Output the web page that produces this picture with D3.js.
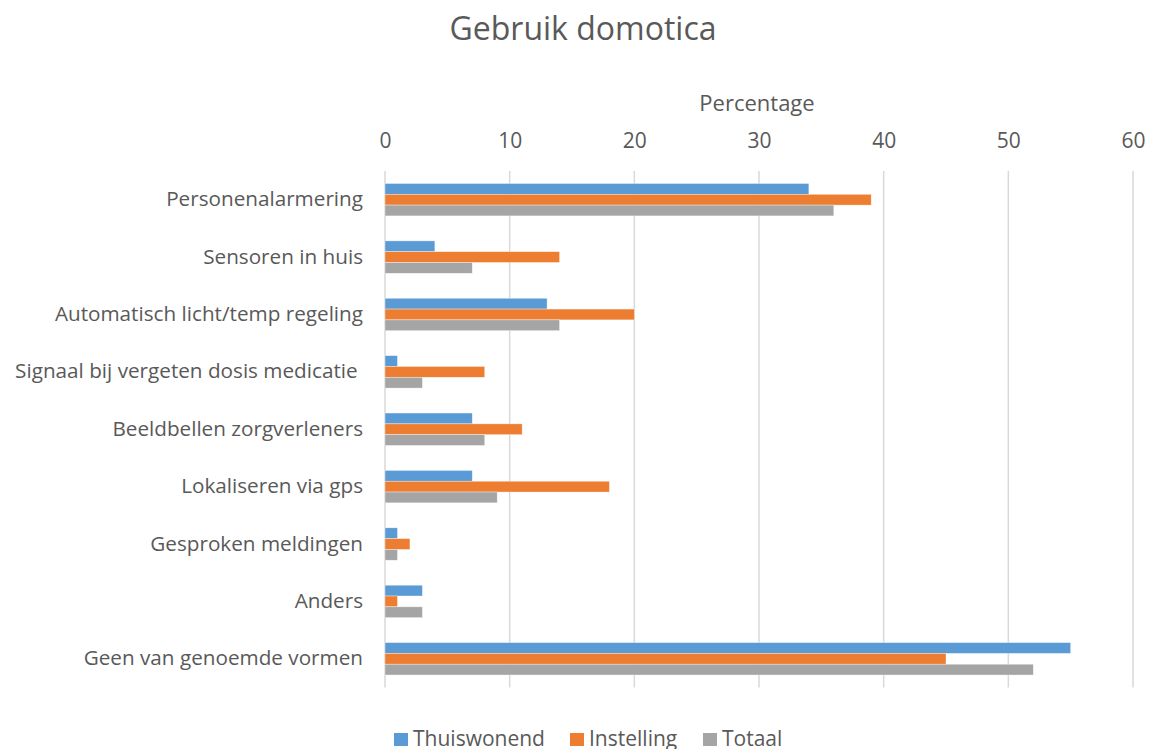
<!DOCTYPE html>
<html>
<head>
<meta charset="utf-8">
<script src="https://cdn.jsdelivr.net/npm/d3@7"></script>
<style>
  body { margin: 0; background: #fff; }
  svg { font-family: "Open Sans", "Noto Sans", sans-serif; }
  text { fill: #595959; white-space: pre; }
</style>
</head>
<body>
<svg id="chart" width="1151" height="749"></svg>
<script>
// chart data
var categories = [
  "Personenalarmering",
  "Sensoren in huis",
  "Automatisch licht/temp regeling",
  "Signaal bij vergeten dosis medicatie ",
  "Beeldbellen zorgverleners",
  "Lokaliseren via gps",
  "Gesproken meldingen",
  "Anders",
  "Geen van genoemde vormen"
];
var seriesNames = ["Thuiswonend", "Instelling", "Totaal"];
var thuiswonend = [34, 4, 13, 1, 7, 7, 1, 3, 55];
var instelling  = [39, 14, 20, 8, 11, 18, 2, 1, 45];
var totaal      = [36, 7, 14, 3, 8, 9, 1, 3, 52];
var xTicks = [0, 10, 20, 30, 40, 50, 60];
var colors = ["#5B9BD5", "#ED7D31", "#A5A5A5"];

var seriesValues = [thuiswonend, instelling, totaal];

var svg = d3.select("#chart");
var plotLeft = 385, plotRight = 1133, plotTop = 171, plotBottom = 687.5;

var x = d3.scaleLinear().domain([0, 60]).range([plotLeft, plotRight]);
var y = d3.scaleBand().domain(categories).range([plotTop, plotBottom])
  .paddingInner(0.435).paddingOuter(0.2175);
var ySub = d3.scaleBand().domain(seriesNames).range([0, y.bandwidth()]);

// title
svg.append("text")
  .attr("x", 583).attr("y", 40)
  .attr("text-anchor", "middle")
  .style("font-size", "32px")
  .text("Gebruik domotica");

svg.append("text")
  .attr("x", 757).attr("y", 111)
  .attr("text-anchor", "middle")
  .style("font-size", "22px")
  .text("Percentage");

// gridlines
svg.append("g").selectAll("line")
  .data(xTicks)
  .enter()
  .append("line")
  .attr("x1", function(d){ return x(d); })
  .attr("x2", function(d){ return x(d); })
  .attr("y1", plotTop)
  .attr("y2", plotBottom)
  .style("stroke", "#D9D9D9")
  .style("stroke-width", 1.5);

// top axis
var xAxis = svg.append("g")
  .attr("transform", "translate(0," + (plotTop - 23) + ")")
  .call(d3.axisTop(x).tickValues(xTicks).tickSize(0).tickPadding(0));
xAxis.select(".domain").remove();
xAxis.selectAll("text")
  .style("font-size", "21px")
  .style("font-family", "\"Open Sans\", sans-serif")
  .attr("fill", "#595959");

// category axis
var yAxis = svg.append("g")
  .attr("transform", "translate(" + (plotLeft - 22) + ",0)")
  .call(d3.axisLeft(y).tickSize(0).tickPadding(0));
yAxis.select(".domain").remove();
yAxis.selectAll("text")
  .style("font-size", "20.7px")
  .style("font-family", "\"Open Sans\", sans-serif")
  .attr("fill", "#595959");

// bars
seriesNames.forEach(function(name, s) {
  svg.append("g").selectAll("rect")
    .data(seriesValues[s])
    .enter()
    .append("rect")
    .attr("x", x(0))
    .attr("y", function(d, i){ return y(categories[i]) + ySub(name); })
    .attr("width", function(d){ return x(d) - x(0); })
    .attr("height", ySub.bandwidth())
    .style("fill", colors[s])
    .style("stroke", "rgba(255,255,255,0.6)")
    .style("stroke-width", 0.6);
});

// legend
var legendX = [394, 570, 703];
var legend = svg.append("g").selectAll("g")
  .data(seriesNames)
  .enter()
  .append("g")
  .attr("transform", function(d, i){ return "translate(" + legendX[i] + ",733)"; });
legend.append("rect")
  .attr("width", 14).attr("height", 13)
  .style("fill", function(d, i){ return colors[i]; });
legend.append("text")
  .attr("x", 19).attr("y", 13)
  .style("font-size", "21px")
  .text(function(d){ return d; });
</script>
</body>
</html>
